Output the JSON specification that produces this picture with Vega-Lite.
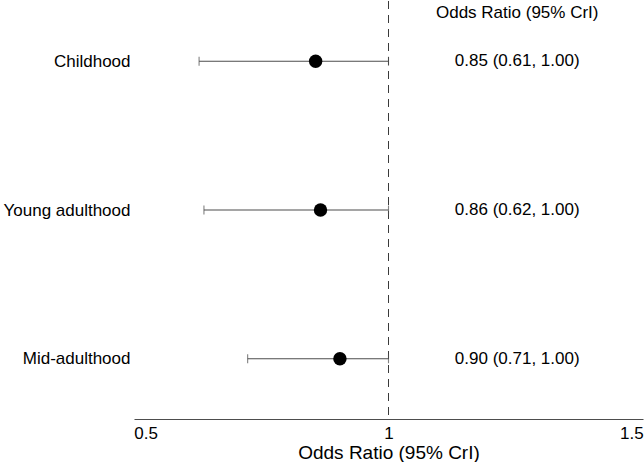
{
  "$schema": "https://vega.github.io/schema/vega-lite/v6.json",
  "width": 509,
  "height": 418,
  "padding": {"left": 2, "top": 0, "right": 0, "bottom": 0},
  "config": {
    "font": "Liberation Sans",
    "view": {"stroke": null}
  },
  "resolve": {"scale": {"y": "independent"}},
  "layer": [
    {
      "data": {
        "values": [
          {"period": "Childhood", "or": 0.85, "lo": 0.61, "hi": 1.0, "label": "0.85 (0.61, 1.00)"},
          {"period": "Young adulthood", "or": 0.86, "lo": 0.62, "hi": 1.0, "label": "0.86 (0.62, 1.00)"},
          {"period": "Mid-adulthood", "or": 0.9, "lo": 0.71, "hi": 1.0, "label": "0.90 (0.71, 1.00)"}
        ]
      },
      "encoding": {
        "y": {
          "field": "period",
          "type": "nominal",
          "sort": ["Childhood", "Young adulthood", "Mid-adulthood"],
          "scale": {"type": "point", "padding": 0.405},
          "axis": {
            "title": null,
            "domain": false,
            "ticks": false,
            "labelFontSize": 17,
            "labelColor": "black",
            "labelPadding": 4
          }
        }
      },
      "layer": [
        {
          "mark": {"type": "rule", "strokeDash": [8, 6], "color": "#3a3a3a", "strokeWidth": 1},
          "encoding": {
            "x": {"datum": 1, "type": "quantitative"},
            "y": null
          }
        },
        {
          "mark": {"type": "rule", "color": "#4d4d4d", "strokeWidth": 1.1},
          "encoding": {
            "x": {
              "field": "lo",
              "type": "quantitative",
              "scale": {"domain": [0.476, 1.524], "nice": false, "zero": false},
              "axis": {
                "values": [0.5, 1, 1.5],
                "format": "~g",
                "grid": false,
                "ticks": false,
                "domainColor": "#4d4d4d",
                "domainWidth": 1.1,
                "labelFontSize": 17,
                "labelColor": "black",
                "labelPadding": 6,
                "title": "Odds Ratio (95% CrI)",
                "titleFontSize": 19,
                "titleFontWeight": "normal",
                "titleColor": "black",
                "titlePadding": 2
              }
            },
            "x2": {"field": "hi"}
          }
        },
        {
          "mark": {"type": "tick", "orient": "vertical", "color": "#4d4d4d", "size": 9, "thickness": 1.1},
          "encoding": {"x": {"field": "lo", "type": "quantitative"}}
        },
        {
          "mark": {"type": "tick", "orient": "vertical", "color": "#4d4d4d", "size": 9, "thickness": 1.1},
          "encoding": {"x": {"field": "hi", "type": "quantitative"}}
        },
        {
          "mark": {"type": "circle", "color": "black", "opacity": 1, "size": 180},
          "encoding": {"x": {"field": "or", "type": "quantitative"}}
        },
        {
          "mark": {"type": "text", "fontSize": 17, "color": "black", "align": "center", "baseline": "middle"},
          "encoding": {
            "x": {"datum": 1.265, "type": "quantitative"},
            "text": {"field": "label"}
          }
        }
      ]
    },
    {
      "data": {"values": [{"header": "Odds Ratio (95% CrI)", "pos": 0.971}]},
      "mark": {"type": "text", "fontSize": 17, "color": "black", "align": "center", "baseline": "middle"},
      "encoding": {
        "x": {"datum": 1.265, "type": "quantitative"},
        "y": {"field": "pos", "type": "quantitative", "scale": {"domain": [0, 1], "nice": false, "zero": false}, "axis": null},
        "text": {"field": "header"}
      }
    }
  ]
}
